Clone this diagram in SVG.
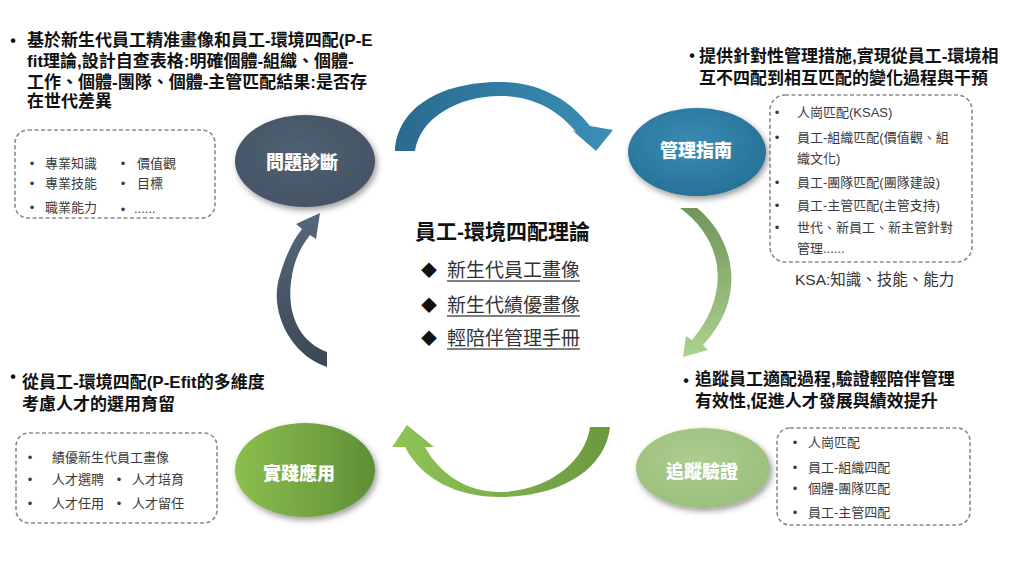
<svg xmlns="http://www.w3.org/2000/svg" width="1024" height="576" viewBox="0 0 1024 576">
<style>
.t{font-family:"Liberation Sans","Noto Sans CJK TC",sans-serif;font-weight:700;fill:#111;font-size:17px}
.b{font-family:"Liberation Sans","Noto Sans CJK TC",sans-serif;font-weight:700;fill:#111;font-size:16px;text-anchor:middle}
.i{font-family:"Liberation Sans","Noto Sans CJK TC",sans-serif;font-weight:400;fill:#3a3a3a;font-size:13px}
.ib{font-family:"Liberation Sans",sans-serif;fill:#3a3a3a;font-size:13px;text-anchor:middle}
.box{fill:#fff;stroke:#8a8a8a;stroke-width:1.6;stroke-dasharray:4 2.5}
.lbl{font-family:"Liberation Sans","Noto Sans CJK TC",sans-serif;font-weight:900;fill:#fff;font-size:18px;text-anchor:middle}
.c{font-family:"Liberation Sans","Noto Sans CJK TC",sans-serif;font-weight:400;fill:#333;font-size:19px}
.d{font-family:"Liberation Sans","Noto Sans CJK TC",sans-serif;fill:#111;font-size:16px;text-anchor:middle}
.ul{stroke:#555;stroke-width:1.3}
</style>
<defs>
<filter id="sh" x="-20%" y="-20%" width="150%" height="160%"><feDropShadow dx="2" dy="3" stdDeviation="3" flood-color="#000" flood-opacity="0.4"/></filter>
<linearGradient id="gBlue" x1="0" y1="0" x2="1" y2="0"><stop offset="0" stop-color="#2a6a8e"/><stop offset="1" stop-color="#3a8fb7"/></linearGradient>
<linearGradient id="gGR" x1="0" y1="0" x2="0" y2="1"><stop offset="0" stop-color="#72955a"/><stop offset="1" stop-color="#abd290"/></linearGradient>
<linearGradient id="gGB" x1="0" y1="0" x2="1" y2="0"><stop offset="0" stop-color="#8ec556"/><stop offset="1" stop-color="#6a993e"/></linearGradient>
<linearGradient id="gSl" x1="0" y1="0" x2="0" y2="1"><stop offset="0" stop-color="#56687b"/><stop offset="1" stop-color="#3b4856"/></linearGradient>
<radialGradient id="eSl" cx="0.45" cy="0.4" r="0.7"><stop offset="0" stop-color="#4f6072"/><stop offset="1" stop-color="#435262"/></radialGradient>
<radialGradient id="eBl" cx="0.45" cy="0.4" r="0.7"><stop offset="0" stop-color="#3a8cb4"/><stop offset="1" stop-color="#256d92"/></radialGradient>
<linearGradient id="eGr" x1="0" y1="0" x2="1" y2="0"><stop offset="0" stop-color="#8cbf4f"/><stop offset="1" stop-color="#5f8e36"/></linearGradient>
<radialGradient id="eLg" cx="0.45" cy="0.4" r="0.7"><stop offset="0" stop-color="#adcd91"/><stop offset="1" stop-color="#98bd79"/></radialGradient>
</defs>
<rect width="1024" height="576" fill="#fff"/>

<g id="connectors">
<path d="M395,151 C397,108 440,82 500,82 C540,82 570,100 590,126 L613,130 L596,151 L572,130 L576,132 C557,109 532,96 500,96 C458,96 420,118 415,151 Z" fill="url(#gBlue)"/>
<path d="M680,208 L697,208 C732,236 750,295 703,345 L708,350 L683,357 L686,336 L692,340 C733,292 722,238 680,208 Z" fill="url(#gGR)"/>
<path d="M610,427 L590,427 C585,462 548,491 500,492 C468,492 440,475 425,447 L434,447 L407,425 L392,447 L405,447 C422,480 458,497 500,497 C562,497 606,468 610,427 Z" fill="url(#gGB)"/>
<path d="M327,352 L327,367 C290,355 268,310 280,275 C286,255 293,240 302,229 L296,224 L320,213 L316,239 L310,235 C298,250 293,265 291,282 C287,315 300,342 327,352 Z" fill="url(#gSl)"/>
</g>

<g id="node-diagnose">
<ellipse cx="305" cy="161" rx="70" ry="46" fill="url(#eSl)" filter="url(#sh)"/>
<text class="lbl" x="302" y="169">問題診斷</text>
</g>
<g id="node-guide">
<ellipse cx="697" cy="152" rx="69" ry="44" fill="url(#eBl)" filter="url(#sh)"/>
<text class="lbl" x="696" y="157">管理指南</text>
</g>
<g id="node-practice">
<ellipse cx="305" cy="470" rx="70" ry="47" fill="url(#eGr)" filter="url(#sh)"/>
<text class="lbl" x="299" y="480">實踐應用</text>
</g>
<g id="node-track">
<ellipse cx="703" cy="468" rx="67" ry="40" fill="url(#eLg)" filter="url(#sh)"/>
<text class="lbl" x="702" y="478">追蹤驗證</text>
</g>

<g id="center">
<text class="t" x="415" y="239" style="font-size:21px">員工-環境四配理論</text>
<text class="d" x="429" y="276">◆</text>
<text class="c" x="447" y="277">新生代員工畫像</text>
<line class="ul" x1="447" y1="281" x2="580" y2="281"/>
<text class="d" x="429" y="311">◆</text>
<text class="c" x="447" y="312">新生代績優畫像</text>
<line class="ul" x1="447" y1="316" x2="580" y2="316"/>
<text class="d" x="429" y="344">◆</text>
<text class="c" x="447" y="345">輕陪伴管理手冊</text>
<line class="ul" x1="447" y1="349" x2="580" y2="349"/>
</g>

<g id="note-topleft">
<text class="b" x="13" y="46">•</text>
<text class="t" x="27" y="46">基於新生代員工精准畫像和員工-環境四配(P-E</text>
<text class="t" x="27" y="67">fit理論,設計自查表格:明確個體-組織、個體-</text>
<text class="t" x="27" y="87.5">工作、個體-團隊、個體-主管匹配結果:是否存</text>
<text class="t" x="27" y="107">在世代差異</text>
</g>
<g id="box-topleft">
<rect class="box" x="15" y="130" width="200" height="88" rx="13"/>
<text class="ib" x="32" y="168">•</text><text class="i" x="45" y="168">專業知識</text>
<text class="ib" x="32" y="188">•</text><text class="i" x="45" y="188">專業技能</text>
<text class="ib" x="32" y="212">•</text><text class="i" x="45" y="212">職業能力</text>
<text class="ib" x="123" y="168">•</text><text class="i" x="137" y="168">價值觀</text>
<text class="ib" x="123" y="188">•</text><text class="i" x="137" y="188">目標</text>
<text class="ib" x="123" y="214">•</text><text class="i" x="134" y="213">......</text>
</g>

<g id="note-topright">
<text class="b" x="692" y="61">•</text>
<text class="t" x="699" y="61.5">提供針對性管理措施,實現從員工-環境相</text>
<text class="t" x="699" y="83.5">互不四配到相互匹配的變化過程與干預</text>
</g>
<g id="box-topright">
<rect class="box" x="770" y="95" width="202" height="167" rx="15"/>
<text class="ib" x="777" y="117">•</text><text class="i" x="797" y="117">人崗匹配(KSAS)</text>
<text class="ib" x="777" y="142">•</text><text class="i" x="797" y="142">員工-組織匹配(價值觀、組</text>
<text class="i" x="797" y="163">織文化)</text>
<text class="ib" x="777" y="187">•</text><text class="i" x="797" y="187">員工-團隊匹配(團隊建設)</text>
<text class="ib" x="777" y="210">•</text><text class="i" x="797" y="210">員工-主管匹配(主管支持)</text>
<text class="ib" x="777" y="232">•</text><text class="i" x="797" y="232">世代、新員工、新主管針對</text>
<text class="i" x="797" y="253">管理......</text>
<text class="i" x="795" y="285" style="font-size:15.5px;fill:#333">KSA:知識、技能、能力</text>
</g>

<g id="note-bottomleft">
<text class="b" x="13" y="382">•</text>
<text class="t" x="22" y="387.5">從員工-環境四配(P-Efit的多維度</text>
<text class="t" x="22" y="409.5">考慮人才的選用育留</text>
</g>
<g id="box-bottomleft">
<rect class="box" x="16" y="433" width="201" height="90" rx="13"/>
<text class="ib" x="30" y="462">•</text><text class="i" x="52" y="462">績優新生代員工畫像</text>
<text class="ib" x="30" y="484">•</text><text class="i" x="52" y="484">人才選聘</text>
<text class="ib" x="119" y="484">•</text><text class="i" x="132" y="484">人才培育</text>
<text class="ib" x="30" y="508">•</text><text class="i" x="52" y="508">人才任用</text>
<text class="ib" x="119" y="508">•</text><text class="i" x="132" y="508">人才留任</text>
</g>

<g id="note-bottomright">
<text class="b" x="686" y="386">•</text>
<text class="t" x="695" y="384.5">追蹤員工適配過程,驗證輕陪伴管理</text>
<text class="t" x="695" y="406.5">有效性,促進人才發展與績效提升</text>
</g>
<g id="box-bottomright">
<rect class="box" x="777" y="428" width="193" height="97" rx="13"/>
<text class="ib" x="795" y="447">•</text><text class="i" x="808" y="447">人崗匹配</text>
<text class="ib" x="795" y="472">•</text><text class="i" x="808" y="472">員工-組織四配</text>
<text class="ib" x="795" y="493">•</text><text class="i" x="808" y="493">個體-團隊匹配</text>
<text class="ib" x="795" y="517">•</text><text class="i" x="808" y="517">員工-主管四配</text>
</g>
</svg>
